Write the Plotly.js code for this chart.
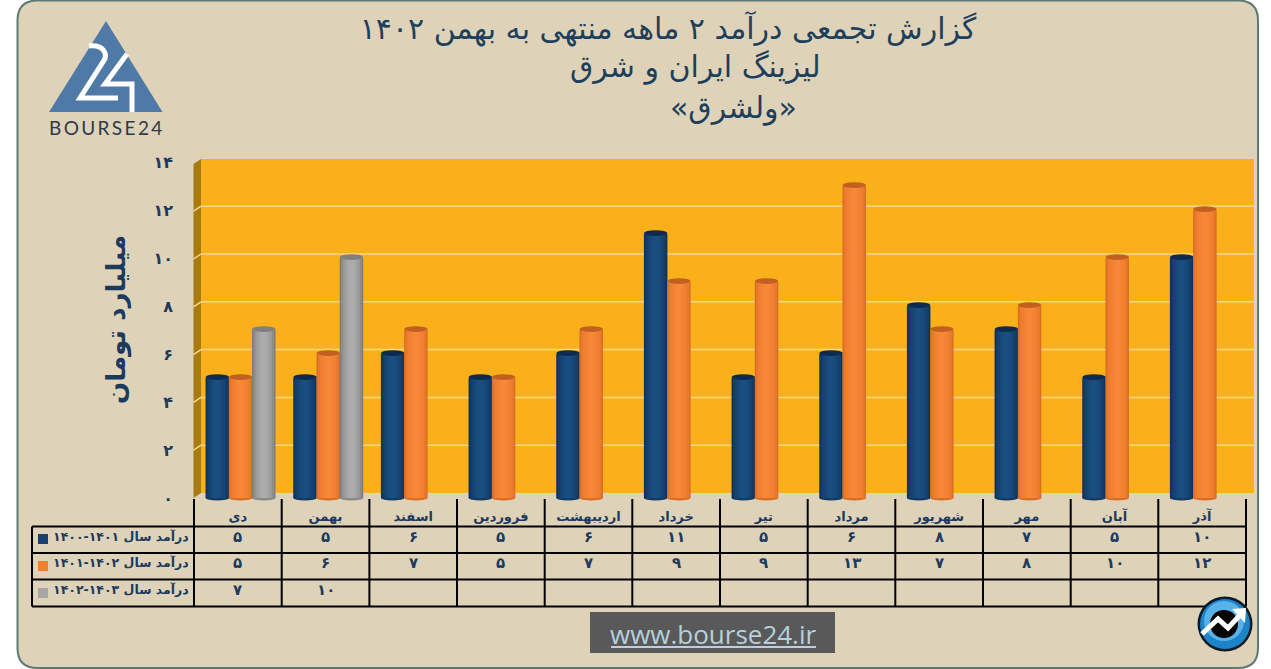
<!DOCTYPE html>
<html><head><meta charset="utf-8">
<script src="https://cdn.plot.ly/plotly-3.0.1.min.js"></script>
<style>html,body{margin:0;padding:0;background:#fff}</style></head>
<body><div id="c" style="width:1271px;height:669px"></div>
<script>
const months = ['دی','بهمن','اسفند','فروردین','اردیبهشت','خرداد','تیر','مرداد','شهریور','مهر','آبان','آذر'];
const rev1400 = [5,5,6,5,6,11,5,6,8,7,5,10];
const rev1401 = [5,6,7,5,7,9,9,13,7,8,10,12];
const rev1402 = [7,10,null,null,null,null,null,null,null,null,null,null];
const rowLabels = ['درآمد سال ۱۴۰۱-۱۴۰۰','درآمد سال ۱۴۰۲-۱۴۰۱','درآمد سال ۱۴۰۳-۱۴۰۲'];
const yTicks = [0,2,4,6,8,10,12,14];
const titleLines = ['گزارش تجمعی درآمد ۲ ماهه منتهی به بهمن ۱۴۰۲','لیزینگ ایران و شرق','«ولشرق»'];
const yTitle = 'میلیارد تومان';

const W=1271,H=669, L=194,R=1246,T=162,ZERO=498,PERU=24;
const BOT = ZERO+6;
const PX=x=>(x-L)/(R-L), PY=y=>(BOT-y)/(BOT-T);
const NAVY='#1c3a5e';
const fa=v=>String(v).replace(/\d/g,d=>'۰۱۲۳۴۵۶۷۸۹'[d]);

const SLOT=0.268, starts=[-0.368,-0.103,0.162];
const bandW=[1,0.88,0.7,0.48,0.24];
const series=[
 {y:rev1400,bands:['#10315a','#133c69','#164472','#184a7a','#1a4d80'],cap:'#0d2b4e',base:'#123a66'},
 {y:rev1401,bands:['#d86f27','#ea792d','#f27f30','#f58334','#f68838'],cap:'#c2611f',base:'#d96e26'},
 {y:rev1402,bands:['#7c7c7c','#8e8e8e','#9c9c9c','#a6a6a6','#acacac'],cap:'#808080',base:'#8a8a8a'}
];
const traces=[];
series.forEach((s,si)=>{
  bandW.forEach((f,bi)=>{
    traces.push({type:'bar',x:months,y:s.y,width:SLOT*f,offset:starts[si]+(1-f)/2*SLOT,
      marker:{color:s.bands[bi],line:{width:0}},showlegend:false,hoverinfo:bi===0?'x+y':'skip'});
  });
});

const paperPoly=(pts,fill,layer='below',line)=>({type:'path',xref:'paper',yref:'paper',layer,
  path:'M'+pts.map(p=>PX(p[0])+','+PY(p[1])).join(' L')+' Z',fillcolor:fill,line:line||{width:0}});
const paperLine=(x0,y0,x1,y1,color,width,layer='above')=>({type:'line',xref:'paper',yref:'paper',layer,
  x0:PX(x0),y0:PY(y0),x1:PX(x1),y1:PY(y1),line:{color,width}});
const paperRect=(x0,y0,x1,y1,fill,layer='above')=>({type:'rect',xref:'paper',yref:'paper',layer,
  x0:PX(x0),y0:PY(y0),x1:PX(x1),y1:PY(y1),fillcolor:fill,line:{width:0}});
const paperCircle=(cx,cy,r,fill)=>({type:'circle',xref:'paper',yref:'paper',layer:'above',
  x0:PX(cx-r),x1:PX(cx+r),y0:PY(cy-r),y1:PY(cy+r),fillcolor:fill,line:{width:0}});

function roundPanel(x0,y0,x1,y1,r){
  const X=PX,Y=PY;
  return 'M'+X(x0+r)+','+Y(y0)+' L'+X(x1-r)+','+Y(y0)+' Q'+X(x1)+','+Y(y0)+' '+X(x1)+','+Y(y0+r)+
   ' L'+X(x1)+','+Y(y1-r)+' Q'+X(x1)+','+Y(y1)+' '+X(x1-r)+','+Y(y1)+
   ' L'+X(x0+r)+','+Y(y1)+' Q'+X(x0)+','+Y(y1)+' '+X(x0)+','+Y(y1-r)+
   ' L'+X(x0)+','+Y(y0+r)+' Q'+X(x0)+','+Y(y0)+' '+X(x0+r)+','+Y(y0)+' Z';
}
const pathPx=(d,color,width,fill)=>({type:'path',xref:'paper',yref:'paper',layer:'above',
  path:d.replace(/(-?[\d.]+),(-?[\d.]+)/g,(m,a,b)=>PX(+a)+','+PY(+b)),
  line:{color,width},fillcolor:fill||'rgba(0,0,0,0)'});

const shapes=[];
// panel
shapes.push({type:'path',xref:'paper',yref:'paper',layer:'below',path:roundPanel(17.5,0.5,1258,668,20),
  fillcolor:'#ded3b9',line:{color:'#5f7a75',width:2}});
// walls
shapes.push(paperPoly([[201,159],[1254,159],[1254,493],[201,493]],'#fab01a'));
shapes.push(paperPoly([[193.5,164],[201,159],[201,493],[193.5,498]],'#a97a0e'));
yTicks.filter(v=>v>0&&v<14).forEach(v=>{
  const yb=ZERO-5-v*PERU+ (v*0.1);
  shapes.push(paperLine(201,yb,1254,yb,'#f9d78c',1.5,'below'));
  shapes.push(paperLine(193.5,yb+5,201,yb,'#f9d78c',1.5,'below'));
});
// cylinder ends
series.forEach((s,si)=>{
  s.y.forEach((v,i)=>{
    if(v===null) return;
    shapes.push({type:'circle',xref:'x',yref:'y',layer:'below',x0:i+starts[si],x1:i+starts[si]+SLOT,y0:-0.1,y1:0.1,fillcolor:s.base,line:{width:0}});
    shapes.push({type:'circle',xref:'x',yref:'y',layer:'above',x0:i+starts[si],x1:i+starts[si]+SLOT,y0:v-0.08,y1:v+0.16,fillcolor:s.cap,line:{width:0}});
  });
});
// table
const colX=[194,281.7,369.4,457,544.7,632.3,720,807.7,895.3,983,1070.7,1158.3,1246];
colX.forEach(x=>shapes.push(paperLine(x,499,x,606.5,'#000',2)));
shapes.push(paperLine(32,526.5,32,606.5,'#000',2));
[526.5,553,579.5,606.5].forEach(y=>shapes.push(paperLine(32,y,1246,y,'#000',2)));
// legend swatches
shapes.push(paperRect(38,534,48,544,'#17406e'));
shapes.push(paperRect(38,561,48,571,'#f0802f'));
shapes.push(paperRect(38,588,48,598,'#a6a6a6'));
// logo
shapes.push(paperPoly([[106,21],[162.5,112],[49,112]],'#4f7aa8','above'));
shapes.push(pathPx('M89,46 C103,44 109,54 103,62 L80,98 L118,98','#fff',5));
shapes.push(pathPx('M127,54 L105,84 L132,84 L132,112','#fff',5));
// url box
shapes.push(paperRect(590,612,835,653,'#595959'));
shapes.push(paperLine(611,647,816,647,'#bccde4',2));
// badge
shapes.push(paperCircle(1225,624,27.5,'#0b1a26'));
shapes.push(paperCircle(1225,624,25,'#1d84c9'));
shapes.push(paperCircle(1224,621,20,'#58b2e8'));
shapes.push(paperCircle(1224,624,14,'#050505'));
shapes.push(pathPx('M1202,634 L1218,619 L1228,628 L1241,614','#fff',5));
shapes.push(paperPoly([[1246,608],[1232,609],[1245,623]],'#fff','above'));

const annotations=[];
const fontBold=(size,color)=>({family:'"DejaVu Sans"',size,color,weight:'bold'});
titleLines.slice(1).forEach((t,i)=>{
  annotations.push({text:t,xref:'paper',yref:'paper',x:PX([695,733][i]),y:PY([67,108][i]),showarrow:false,
    xanchor:'center',yanchor:'middle',font:{family:'"DejaVu Sans"',size:30,color:'#1e3f5c'}});
});
[rev1400,rev1401,rev1402].forEach((arr,r)=>{
  arr.forEach((v,i)=>{
    if(v===null) return;
    annotations.push({text:fa(v),xref:'x',yref:'paper',x:i,y:PY([537,563,590][r]),showarrow:false,
      xanchor:'center',yanchor:'middle',font:fontBold(15,NAVY)});
  });
  annotations.push({text:rowLabels[r],xref:'paper',yref:'paper',x:PX(51),y:PY([536,562,589][r]),showarrow:false,
    xanchor:'left',yanchor:'middle',font:fontBold(12.5,NAVY)});
});
annotations.push({text:yTitle,xref:'paper',yref:'paper',x:PX(116),y:PY(320),showarrow:false,textangle:-90,
  xanchor:'center',yanchor:'middle',font:fontBold(26,NAVY)});
annotations.push({text:'B\u2009O\u2009U\u2009R\u2009S\u2009E\u20092\u20094',xref:'paper',yref:'paper',x:PX(105.5),y:PY(127),showarrow:false,
  xanchor:'center',yanchor:'middle',font:{family:'Lato',size:19,color:'#2b3b4b'}});
annotations.push({text:'www.bourse24.ir',xref:'paper',yref:'paper',x:PX(713),y:PY(634),showarrow:false,
  xanchor:'center',yanchor:'middle',font:{family:'"Open Sans"',size:26,color:'#b5d0dc'}});

const layout={
  width:W,height:H,autosize:false,showlegend:false,barmode:'overlay',
  margin:{l:L,r:W-R,t:T,b:H-BOT,pad:0},
  paper_bgcolor:'#fff',plot_bgcolor:'rgba(0,0,0,0)',
  title:{text:titleLines[0],xref:'container',yref:'container',x:668/W,y:1-28/H,xanchor:'center',yanchor:'middle',
    font:{family:'"DejaVu Sans"',size:30,color:'#1e3f5c'}},
  xaxis:{type:'category',categoryorder:'array',categoryarray:months,range:[-0.5,11.5],showgrid:false,zeroline:false,showline:false,
    ticks:'',ticklabelstandoff:3,tickangle:0,tickfont:fontBold(13,NAVY),fixedrange:true},
  yaxis:{range:[-6/PERU,(ZERO-T)/PERU],tickvals:yTicks,ticktext:yTicks.map(fa),showgrid:false,zeroline:false,showline:false,
    ticks:'',ticklabelstandoff:20,tickfont:fontBold(16,NAVY),fixedrange:true},
  shapes,annotations
};
Plotly.newPlot('c',traces,layout,{displayModeBar:false,responsive:false});
</script></body></html>
